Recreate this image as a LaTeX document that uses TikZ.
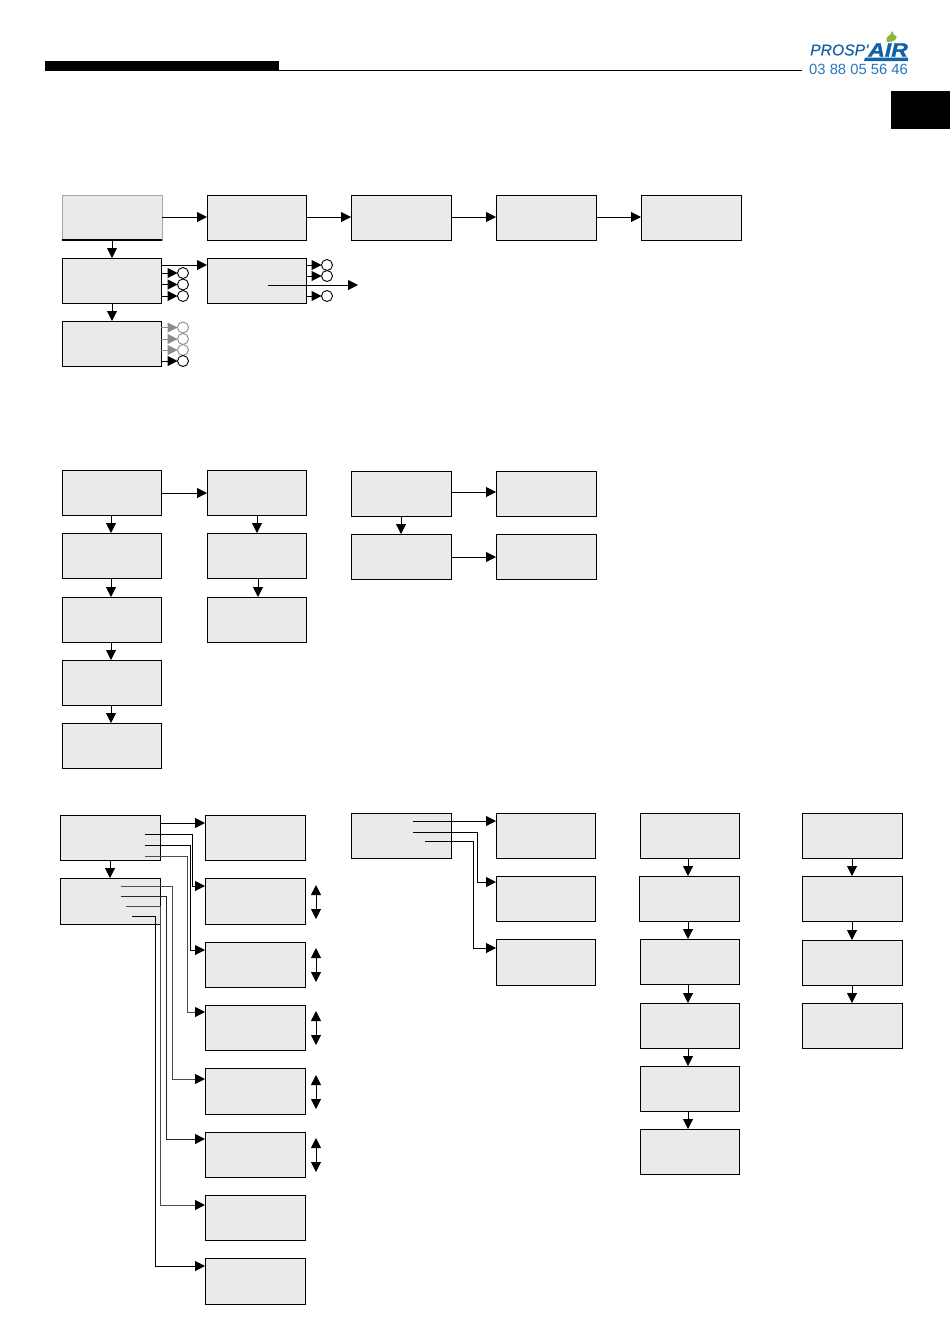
\documentclass[tikz,border=0pt]{standalone}
\usepackage{fontspec}
\setmainfont{Liberation Sans}
\usetikzlibrary{arrows.meta}
\definecolor{panelgray}{RGB}{234,234,234}
\definecolor{logoblue}{RGB}{38,118,190}
\definecolor{airblue}{RGB}{18,98,168}
\definecolor{leafgreen}{RGB}{140,182,60}
\tikzset{
  panel/.style={draw=black, fill=panelgray, line width=0.9pt, anchor=north west, inner sep=0pt, outer sep=0pt},
  link/.style={line width=1pt, -{Triangle[length=10pt,width=10pt]}},
  wirelink/.style={line width=1pt, -{Triangle[length=10pt,width=10pt,color=black]}},
  twoway/.style={line width=1pt, {Triangle[length=10pt,width=10pt]}-{Triangle[length=10pt,width=10pt]}},
  lamp/.style={circle, draw, fill=white, line width=0.9pt, minimum size=11pt, inner sep=0pt, outer sep=0pt}
}
\begin{document}
\begin{tikzpicture}[x=1pt,y=-1pt]
    \useasboundingbox (0,0) rectangle (950,1344);

    % --- Header ---
    \fill[black] (45,61) rectangle (279,71);
    \draw[line width=1pt] (279,70.5) -- (802,70.5);
    \fill[black] (891,91) rectangle (950,129);

    % Logo
    \fill[leafgreen] (886.5,42) .. controls (885,36) and (890,33) .. (896.5,36) .. controls (897,39) and (895,42) .. (886.5,42);
    \fill[leafgreen] (890,35) -- (892,31) -- (894,35) -- cycle;
    \node[anchor=west, inner sep=0pt, text=airblue] (logoname) at (810,50) {\fontsize{15.7}{16}\selectfont\itshape\addfontfeature{FakeBold=0.6}PROSP'};
    \node[anchor=west, inner sep=0pt, text=airblue, xscale=1.18] (logoair) at (868,50) {\fontsize{19.5}{20}\selectfont\bfseries\itshape\addfontfeature{FakeBold=1.5}AIR};
    \fill[airblue] (865,57.5) -- (908,57.5) -- (908,61) -- (864,61) -- cycle;
    \node[anchor=west, inner sep=0pt, text=logoblue] (logophone) at (809,69) {\fontsize{14.8}{15}\selectfont 03 88 05 56 46};

    % --- Panels ---
    \foreach \nm/\xa/\ya/\xb/\yb in {
        a2/207/195/306/240, a3/351/195/451/240, a4/496/195/596/240, a5/641/195/741/240,
        b1/62/258/161/303, b2/207/258/306/303, c1/62/321/161/366,
        d1/62/470/161/515, d2/62/533/161/578, d3/62/597/161/642, d4/62/660/161/705, d5/62/723/161/768,
        e1/207/470/306/515, e2/207/533/306/578, e3/207/597/306/642,
        f1/351/471/451/516, f2/351/534/451/579, g1/496/471/596/516, g2/496/534/596/579,
        h1/60/815/160/860, h2/60/878/160/924,
        i1/205/815/305/860, i2/205/878/305/924, i3/205/942/305/987, i4/205/1005/305/1050,
        i5/205/1068/305/1114, i6/205/1132/305/1177, i7/205/1195/305/1240, i8/205/1258/305/1304,
        j1/351/813/451/858, k1/496/813/595/858, k2/496/876/595/921, k3/496/939/595/985,
        m1/640/813/739/858, m2/639/876/739/921, m3/640/939/739/984,
        m4/640/1003/739/1048, m5/640/1066/739/1111, m6/640/1129/739/1174,
        n1/802/813/902/858, n2/802/876/902/921, n3/802/940/902/985, n4/802/1003/902/1048}
        \node[panel, minimum width=\xb-\xa, minimum height=\yb-\ya] (\nm) at (\xa,\ya) {};

    % First panel: pale edge, heavy bottom line
    \node[panel, draw=black!35, minimum width=100, minimum height=45] (a1) at (62,195) {};
    \draw[line width=1.6pt] (a1.south west) -- (a1.south east);

    % --- Horizontal links ---
    \foreach \src/\dst in {a1/a2, a2/a3, a3/a4, a4/a5}
        \draw[link] (\src.east |- 0,217) -- (\dst.west |- 0,217);
    \foreach \src/\dst/\y in {b1/b2/265, d1/e1/493, f1/g1/492, f2/g2/557, h1/i1/823}
        \draw[link] (\src.east |- 0,\y) -- (\dst.west |- 0,\y);

    % --- Vertical links ---
    \foreach \src/\dst/\x in {a1/b1/112, b1/c1/112, d1/d2/111, d2/d3/111, d3/d4/111, d4/d5/111,
        e1/e2/257, e2/e3/258, f1/f2/401, h1/h2/110,
        m1/m2/688, m2/m3/688, m3/m4/688, m4/m5/688, m5/m6/688,
        n1/n2/852, n2/n3/852, n3/n4/852}
        \draw[link] (\src.south -| \x,0) -- (\dst.north -| \x,0);

    % --- Lamps ---
    \foreach \nm/\src/\x/\y/\col in {
        la/b1/183/273/black, lb/b1/183/284.5/black, lc/b1/183/296/black,
        ld/c1/183/327.5/black!45, le/c1/183/339/black!45, lf/c1/183/350/black!45, lg/c1/183/361/black,
        lh/b2/327/265/black, li/b2/327/276/black, lj/b2/327/296/black}
    {
        \node[lamp, draw=\col] (\nm) at (\x,\y) {};
        \draw[link, draw=\col, fill=\col] (\src.east |- \nm) -- (\nm.west);
    }

    % Long arrow out of the second panel
    \coordinate (b2out) at (268,285);
    \coordinate (b2end) at (358,285);
    \draw[link] (b2out) -- (b2end);

    % --- Wires leaving from inside a panel ---
    \foreach \st/\sx/\sy/\vx/\dst/\dy/\col in {
        wa/145/834/192/i2/886/black,
        wb/145/845/190/i3/950/black,
        wc/145/856/187/i4/1012/black!70,
        wd/121/886/172.5/i5/1079/black!70,
        we/121/896/166.5/i6/1139/black!85,
        wf/126/906/160/i7/1205/black!70,
        wg/132/916/155.5/i8/1266/black,
        wh/413/832/477/k2/882/black,
        wi/425/841/473/k3/948/black}
    {
        \coordinate (\st) at (\sx,\sy);
        \draw[wirelink, draw=\col] (\st) -- (\vx,\sy) -- (\vx,\dy) -- (\dst.west |- 0,\dy);
    }
    \coordinate (wj) at (413,821);
    \draw[link] (wj) -- (k1.west |- wj);

    % --- Up/down arrows beside the panels ---
    \foreach \nm/\ya/\yb in {ua/885/919, ub/948/982, uc/1011/1045, ud/1075/1109, ue/1138/1172}
    {
        \coordinate (\nm t) at (316,\ya);
        \coordinate (\nm b) at (316,\yb);
        \draw[twoway] (\nm t) -- (\nm b);
    }
\end{tikzpicture}
\end{document}
